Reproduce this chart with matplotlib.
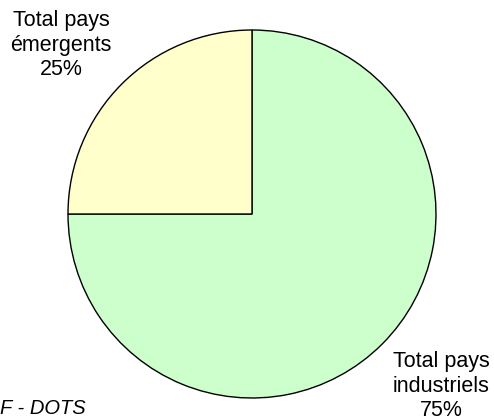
import matplotlib
matplotlib.use("Agg")
import matplotlib.pyplot as plt

categories = ["Total pays\nindustriels", "Total pays\némergents"]
values = [75, 25]
colors = ["#CCFFCC", "#FFFFCC"]
source = "F - DOTS"

W, H = 494, 420
fig = plt.figure(figsize=(W / 100, H / 100), dpi=100)
ax = fig.add_axes([0, 0, 1, 1])

ax.pie(values, colors=colors, startangle=90, counterclock=False,
       center=(252, H - 214), radius=184,
       wedgeprops=dict(edgecolor="black", linewidth=1.0), frame=True)
ax.set_xlim(0, W)
ax.set_ylim(0, H)
ax.set_aspect("equal")
ax.axis("off")

total = sum(values)
pct = [f"{round(v / total * 100)}%" for v in values]
font = "Liberation Sans"
ax.text(441, H - 351, f"{categories[0]}\n{pct[0]}", ha="center", va="top",
        fontsize=15.5, family=font, linespacing=1.22)
ax.text(61, H - 10, f"{categories[1]}\n{pct[1]}", ha="center", va="top",
        fontsize=15.5, family=font, linespacing=1.22)
ax.text(0, H - 418, source, ha="left", va="bottom", fontsize=14.5,
        family=font, style="italic")

fig.savefig("out.png", dpi=100)
